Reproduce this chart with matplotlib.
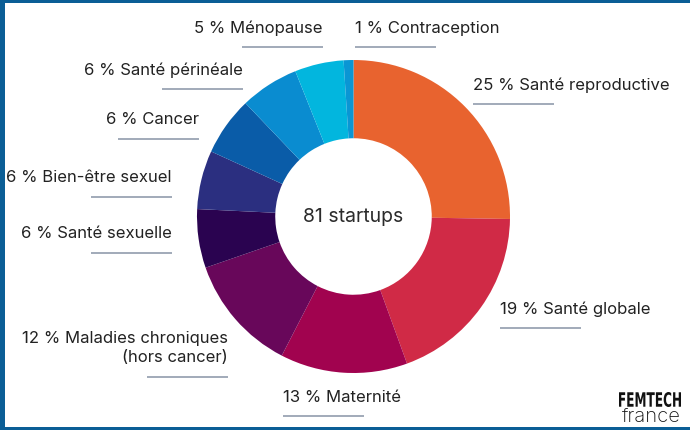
import matplotlib
matplotlib.use("Agg")
import matplotlib.pyplot as plt
from matplotlib.patches import Rectangle, PathPatch
from matplotlib.textpath import TextPath
from matplotlib.font_manager import FontProperties
from matplotlib.transforms import Affine2D

plt.rcParams["font.family"] = ["Inter", "DejaVu Sans"]

# ── Data ──────────────────────────────────────────────────────────────────────
categories = ["Santé reproductive", "Santé globale", "Maternité",
              "Maladies chroniques\n(hors cancer)", "Santé sexuelle",
              "Bien-être sexuel", "Cancer", "Santé périnéale",
              "Ménopause", "Contraception"]
shares = [25, 19, 13, 12, 6, 6, 6, 6, 5, 1]
total_startups = 81
colors = ["#E8632F", "#D02A46", "#A1034F", "#68075A", "#2A0350",
          "#2B2F80", "#0A5CA8", "#0A8CD0", "#02B6DE", "#0A96D4"]

# label anchor (x, y in pixels from top-left), alignment
label_pos = [(473, 85, "left"), (500, 309, "left"), (283, 397, "left"),
             (228, 338, "right"), (172, 234, "right"), (172, 178, "right"),
             (199, 120, "right"), (243, 70, "right"), (323, 28, "right"),
             (355, 28, "left")]

W, H = 690, 430
fig = plt.figure(figsize=(W / 100, H / 100), dpi=100)

# ── Donut ─────────────────────────────────────────────────────────────────────
cx, cy, r = 353.5, 216.5, 156.5
ax = fig.add_axes([(cx - r) / W, (H - cy - r) / H, 2 * r / W, 2 * r / H])
ax.pie(shares, colors=colors, startangle=90, counterclock=False,
       wedgeprops=dict(width=0.5, linewidth=0))
ax.set_xlim(-1, 1)
ax.set_ylim(-1, 1)
ax.set_aspect("equal")
ax.text(0, 0, f"{total_startups} startups", ha="center", va="center",
        fontsize=14, color="#2b2b2b")

# ── Labels / overlay ──────────────────────────────────────────────────────────
ov = fig.add_axes([0, 0, 1, 1], facecolor="none")
ov.set_xlim(0, W)
ov.set_ylim(H, 0)
ov.axis("off")

for cat, val, (x, y, ha) in zip(categories, shares, label_pos):
    lines = cat.split("\n")
    ov.text(x, y, f"{val} % {lines[0]}", ha=ha, va="center",
            fontsize=12, color="#222222")
    ly = y + 19
    if len(lines) > 1:
        ov.text(x, y + 20, lines[1], ha=ha, va="center",
                fontsize=12, color="#222222")
        ly = y + 39
    x0 = x if ha == "left" else x - 81
    ov.plot([x0, x0 + 81], [ly, ly], color="#9aa4b3", lw=1.3,
            solid_capstyle="butt")

# logo: condensed bold "FEMTECH" squeezed into its box
tp = TextPath((0, 0), "FEMTECH", size=10,
              prop=FontProperties(family="DejaVu Sans", weight="bold"))
bb = tp.get_extents()
sx = 62 / bb.width
sy = 15 / bb.height
path = tp.transformed(Affine2D().translate(-bb.x0, -bb.y0)
                      .scale(sx, -sy).translate(619, 407))
ov.add_patch(PathPatch(path, color="#111111", lw=0))
ov.text(681, 417, "france", ha="right", va="center", fontsize=14.5,
        fontweight="light", color="#111111")

# frame
blue = "#0B5E96"
ov.add_patch(Rectangle((0, 0), 5, H, color=blue, lw=0))
ov.add_patch(Rectangle((0, 0), W, 3, color=blue, lw=0))
ov.add_patch(Rectangle((0, H - 3), W, 3, color=blue, lw=0))

fig.savefig("out.png", dpi=100)
